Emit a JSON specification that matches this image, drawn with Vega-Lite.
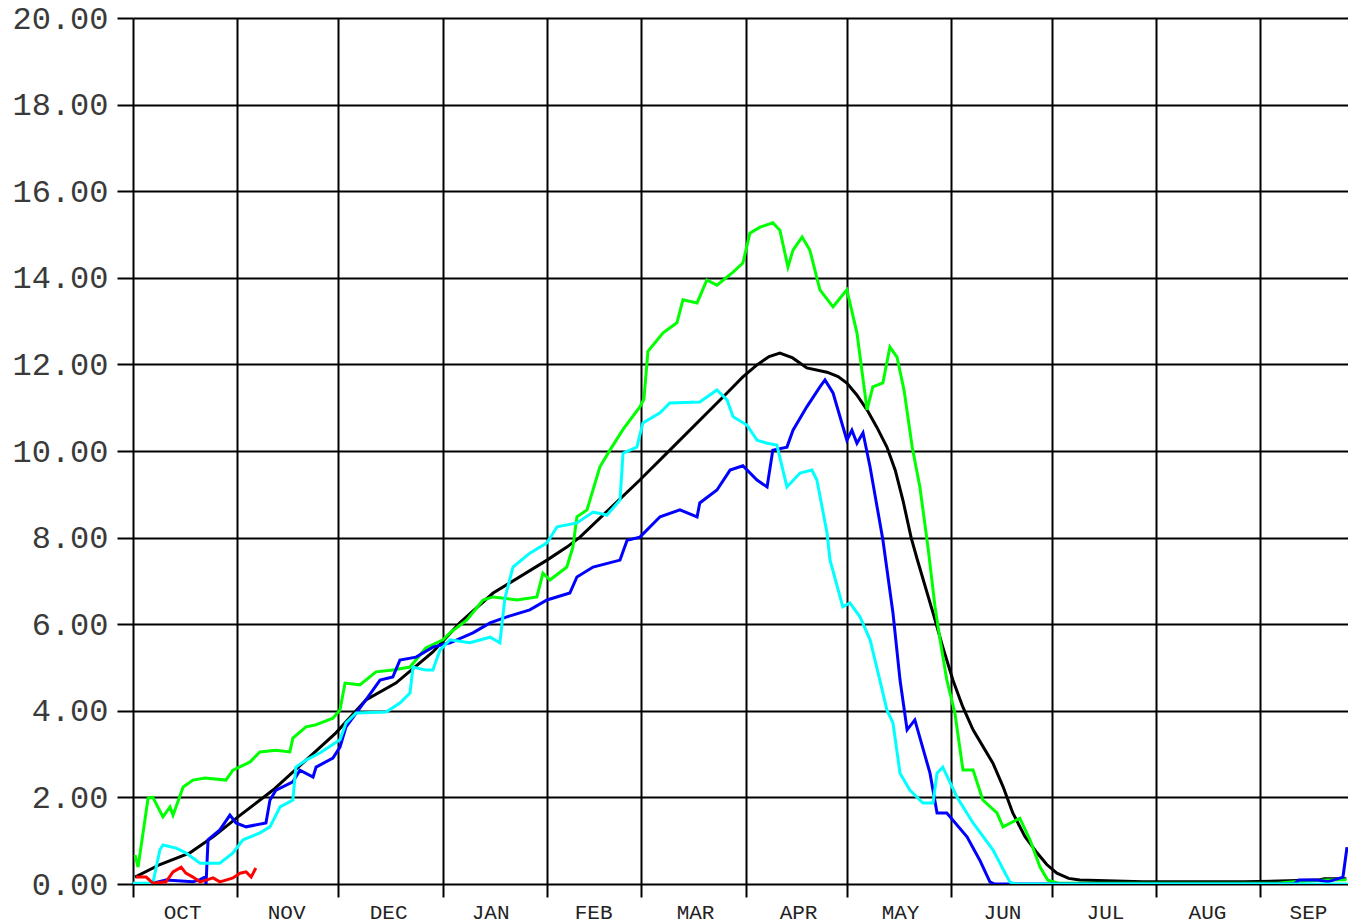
{
  "$schema": "https://vega.github.io/schema/vega-lite/v6.json",
  "width": 1215,
  "height": 866,
  "autosize": {"type": "none"},
  "padding": {"left": 133, "top": 18, "right": 0, "bottom": 40},
  "background": "white",
  "config": {"view": {"stroke": null}},
  "data": {"values": [
    {"s":"black","d":0.6,"v":0.16},{"s":"black","d":8.0,"v":0.45},{"s":"black","d":16.9,"v":0.72},{"s":"black","d":24.0,"v":1.1},{"s":"black","d":31.2,"v":1.55},{"s":"black","d":41.6,"v":2.17},{"s":"black","d":51.4,"v":2.86},{"s":"black","d":60.3,"v":3.49},{"s":"black","d":69.2,"v":4.25},{"s":"black","d":78.1,"v":4.64},{"s":"black","d":89.1,"v":5.36},{"s":"black","d":97.1,"v":6.03},{"s":"black","d":107.0,"v":6.72},{"s":"black","d":123.0,"v":7.48},{"s":"black","d":128.9,"v":7.78},{"s":"black","d":132.8,"v":8.01},{"s":"black","d":150.6,"v":9.33},{"s":"black","d":160.4,"v":10.09},{"s":"black","d":176.5,"v":11.34},{"s":"black","d":181.2,"v":11.71},{"s":"black","d":185.4,"v":11.99},{"s":"black","d":189.0,"v":12.18},{"s":"black","d":192.2,"v":12.26},{"s":"black","d":196.0,"v":12.15},{"s":"black","d":200.2,"v":11.92},{"s":"black","d":206.2,"v":11.82},{"s":"black","d":209.5,"v":11.72},{"s":"black","d":212.1,"v":11.57},{"s":"black","d":215.0,"v":11.3},{"s":"black","d":218.1,"v":10.95},{"s":"black","d":221.0,"v":10.55},{"s":"black","d":224.0,"v":10.09},{"s":"black","d":226.5,"v":9.55},{"s":"black","d":228.8,"v":8.85},{"s":"black","d":231.2,"v":8.0},{"s":"black","d":233.0,"v":7.5},{"s":"black","d":237.7,"v":6.26},{"s":"black","d":240.5,"v":5.5},{"s":"black","d":243.6,"v":4.71},{"s":"black","d":246.5,"v":4.1},{"s":"black","d":249.6,"v":3.56},{"s":"black","d":255.5,"v":2.79},{"s":"black","d":258.5,"v":2.25},{"s":"black","d":261.4,"v":1.64},{"s":"black","d":265.0,"v":1.1},{"s":"black","d":268.6,"v":0.72},{"s":"black","d":271.5,"v":0.45},{"s":"black","d":274.5,"v":0.25},{"s":"black","d":278.0,"v":0.13},{"s":"black","d":281.3,"v":0.09},{"s":"black","d":300,"v":0.05},{"s":"black","d":330,"v":0.05},{"s":"black","d":346,"v":0.08},{"s":"black","d":352,"v":0.09},{"s":"black","d":354,"v":0.12},{"s":"black","d":360.5,"v":0.12},
    {"s":"green","d":0.6,"v":0.67},{"s":"green","d":1.5,"v":0.39},{"s":"green","d":4.5,"v":1.99},{"s":"green","d":5.9,"v":2.0},{"s":"green","d":8.9,"v":1.55},{"s":"green","d":11.0,"v":1.78},{"s":"green","d":11.9,"v":1.59},{"s":"green","d":14.9,"v":2.24},{"s":"green","d":17.8,"v":2.4},{"s":"green","d":21.4,"v":2.45},{"s":"green","d":27.6,"v":2.4},{"s":"green","d":29.7,"v":2.63},{"s":"green","d":34.8,"v":2.82},{"s":"green","d":37.7,"v":3.05},{"s":"green","d":42.5,"v":3.09},{"s":"green","d":46.6,"v":3.05},{"s":"green","d":47.5,"v":3.37},{"s":"green","d":51.4,"v":3.63},{"s":"green","d":54.1,"v":3.67},{"s":"green","d":59.4,"v":3.83},{"s":"green","d":61.5,"v":4.02},{"s":"green","d":63.0,"v":4.64},{"s":"green","d":67.4,"v":4.6},{"s":"green","d":72.2,"v":4.9},{"s":"green","d":77.2,"v":4.94},{"s":"green","d":82.3,"v":5.01},{"s":"green","d":87.0,"v":5.45},{"s":"green","d":92.1,"v":5.64},{"s":"green","d":94.2,"v":5.8},{"s":"green","d":99.2,"v":6.1},{"s":"green","d":104.0,"v":6.56},{"s":"green","d":107.0,"v":6.63},{"s":"green","d":114.1,"v":6.56},{"s":"green","d":120.0,"v":6.63},{"s":"green","d":121.8,"v":7.18},{"s":"green","d":123.9,"v":7.02},{"s":"green","d":128.9,"v":7.32},{"s":"green","d":130.7,"v":7.78},{"s":"green","d":131.9,"v":8.48},{"s":"green","d":134.9,"v":8.64},{"s":"green","d":138.7,"v":9.63},{"s":"green","d":141.7,"v":10.02},{"s":"green","d":145.6,"v":10.5},{"s":"green","d":150.6,"v":11.02},{"s":"green","d":151.8,"v":11.2},{"s":"green","d":153.0,"v":12.3},{"s":"green","d":157.5,"v":12.73},{"s":"green","d":161.6,"v":12.96},{"s":"green","d":163.4,"v":13.49},{"s":"green","d":167.6,"v":13.42},{"s":"green","d":170.5,"v":13.95},{"s":"green","d":173.5,"v":13.83},{"s":"green","d":178.3,"v":14.13},{"s":"green","d":181.2,"v":14.34},{"s":"green","d":183.3,"v":15.03},{"s":"green","d":186.3,"v":15.17},{"s":"green","d":190.1,"v":15.27},{"s":"green","d":192.2,"v":15.1},{"s":"green","d":194.6,"v":14.25},{"s":"green","d":196.1,"v":14.64},{"s":"green","d":198.8,"v":14.94},{"s":"green","d":201.1,"v":14.64},{"s":"green","d":204.1,"v":13.72},{"s":"green","d":208.0,"v":13.33},{"s":"green","d":212.1,"v":13.72},{"s":"green","d":215.1,"v":12.73},{"s":"green","d":218.1,"v":10.95},{"s":"green","d":219.8,"v":11.48},{"s":"green","d":222.8,"v":11.57},{"s":"green","d":224.9,"v":12.4},{"s":"green","d":227.0,"v":12.17},{"s":"green","d":229.1,"v":11.4},{"s":"green","d":231.5,"v":10.1},{"s":"green","d":233.8,"v":9.17},{"s":"green","d":236.2,"v":7.78},{"s":"green","d":238.3,"v":6.4},{"s":"green","d":239.8,"v":5.64},{"s":"green","d":241.8,"v":4.71},{"s":"green","d":244.2,"v":3.95},{"s":"green","d":246.6,"v":2.63},{"s":"green","d":249.6,"v":2.63},{"s":"green","d":252.5,"v":1.94},{"s":"green","d":256.7,"v":1.64},{"s":"green","d":258.5,"v":1.32},{"s":"green","d":263.5,"v":1.52},{"s":"green","d":266.5,"v":1.02},{"s":"green","d":269.5,"v":0.39},{"s":"green","d":271.8,"v":0.09},{"s":"green","d":275,"v":0.02},{"s":"green","d":340,"v":0.02},{"s":"green","d":345,"v":0.05},{"s":"green","d":354.7,"v":0.09},{"s":"green","d":360.5,"v":0.1},
    {"s":"blue","d":5.9,"v":0.02},{"s":"blue","d":9.8,"v":0.09},{"s":"blue","d":17.8,"v":0.05},{"s":"blue","d":19.9,"v":0.1},{"s":"blue","d":21.4,"v":0.16},{"s":"blue","d":21.7,"v":0.0},{"s":"blue","d":22.3,"v":1.02},{"s":"blue","d":25.8,"v":1.25},{"s":"blue","d":28.8,"v":1.59},{"s":"blue","d":30.6,"v":1.41},{"s":"blue","d":33.6,"v":1.32},{"s":"blue","d":39.5,"v":1.41},{"s":"blue","d":40.7,"v":1.94},{"s":"blue","d":42.5,"v":2.17},{"s":"blue","d":47.5,"v":2.36},{"s":"blue","d":49.6,"v":2.63},{"s":"blue","d":53.5,"v":2.47},{"s":"blue","d":54.4,"v":2.7},{"s":"blue","d":59.4,"v":2.91},{"s":"blue","d":61.5,"v":3.16},{"s":"blue","d":63.3,"v":3.63},{"s":"blue","d":69.2,"v":4.25},{"s":"blue","d":73.4,"v":4.71},{"s":"blue","d":77.2,"v":4.78},{"s":"blue","d":79.3,"v":5.17},{"s":"blue","d":84.1,"v":5.24},{"s":"blue","d":89.1,"v":5.47},{"s":"blue","d":94.2,"v":5.57},{"s":"blue","d":101.0,"v":5.8},{"s":"blue","d":106.1,"v":6.03},{"s":"blue","d":111.1,"v":6.17},{"s":"blue","d":117.9,"v":6.33},{"s":"blue","d":123.0,"v":6.56},{"s":"blue","d":129.8,"v":6.72},{"s":"blue","d":131.9,"v":7.09},{"s":"blue","d":136.7,"v":7.32},{"s":"blue","d":144.7,"v":7.48},{"s":"blue","d":146.8,"v":7.94},{"s":"blue","d":150.6,"v":8.01},{"s":"blue","d":156.6,"v":8.48},{"s":"blue","d":162.5,"v":8.64},{"s":"blue","d":167.6,"v":8.48},{"s":"blue","d":168.4,"v":8.8},{"s":"blue","d":173.5,"v":9.1},{"s":"blue","d":177.4,"v":9.56},{"s":"blue","d":181.2,"v":9.66},{"s":"blue","d":185.4,"v":9.33},{"s":"blue","d":188.4,"v":9.17},{"s":"blue","d":190.1,"v":10.02},{"s":"blue","d":194.3,"v":10.09},{"s":"blue","d":196.1,"v":10.48},{"s":"blue","d":200.2,"v":11.02},{"s":"blue","d":204.1,"v":11.48},{"s":"blue","d":205.6,"v":11.64},{"s":"blue","d":208.0,"v":11.34},{"s":"blue","d":212.1,"v":10.25},{"s":"blue","d":213.6,"v":10.48},{"s":"blue","d":215.1,"v":10.18},{"s":"blue","d":216.9,"v":10.42},{"s":"blue","d":219.0,"v":9.63},{"s":"blue","d":222.8,"v":7.95},{"s":"blue","d":225.8,"v":6.26},{"s":"blue","d":227.9,"v":4.71},{"s":"blue","d":230.0,"v":3.56},{"s":"blue","d":232.3,"v":3.79},{"s":"blue","d":236.8,"v":2.56},{"s":"blue","d":238.9,"v":1.64},{"s":"blue","d":241.8,"v":1.64},{"s":"blue","d":247.8,"v":1.09},{"s":"blue","d":251.6,"v":0.55},{"s":"blue","d":254.6,"v":0.05},{"s":"blue","d":256,"v":0.0},{"s":"blue","d":345,"v":0.0},{"s":"blue","d":346.4,"v":0.09},{"s":"blue","d":352,"v":0.09},{"s":"blue","d":355,"v":0.05},{"s":"blue","d":359.5,"v":0.16},{"s":"blue","d":360.7,"v":0.85},
    {"s":"cyan","d":0.0,"v":0.02},{"s":"cyan","d":5.9,"v":0.02},{"s":"cyan","d":8.0,"v":0.79},{"s":"cyan","d":8.9,"v":0.9},{"s":"cyan","d":12.8,"v":0.83},{"s":"cyan","d":15.7,"v":0.72},{"s":"cyan","d":19.9,"v":0.48},{"s":"cyan","d":25.8,"v":0.48},{"s":"cyan","d":29.7,"v":0.72},{"s":"cyan","d":32.7,"v":1.02},{"s":"cyan","d":37.7,"v":1.18},{"s":"cyan","d":40.7,"v":1.32},{"s":"cyan","d":43.7,"v":1.78},{"s":"cyan","d":47.5,"v":1.94},{"s":"cyan","d":48.4,"v":2.7},{"s":"cyan","d":51.4,"v":2.86},{"s":"cyan","d":55.6,"v":3.03},{"s":"cyan","d":61.5,"v":3.33},{"s":"cyan","d":63.3,"v":3.72},{"s":"cyan","d":66.3,"v":3.95},{"s":"cyan","d":75.2,"v":3.97},{"s":"cyan","d":79.3,"v":4.18},{"s":"cyan","d":82.3,"v":4.41},{"s":"cyan","d":83.2,"v":5.01},{"s":"cyan","d":87.0,"v":4.94},{"s":"cyan","d":89.1,"v":4.94},{"s":"cyan","d":91.2,"v":5.4},{"s":"cyan","d":94.2,"v":5.64},{"s":"cyan","d":100.1,"v":5.57},{"s":"cyan","d":106.1,"v":5.7},{"s":"cyan","d":109.0,"v":5.57},{"s":"cyan","d":110.5,"v":6.6},{"s":"cyan","d":112.9,"v":7.32},{"s":"cyan","d":117.9,"v":7.64},{"s":"cyan","d":123.0,"v":7.88},{"s":"cyan","d":126.0,"v":8.25},{"s":"cyan","d":131.9,"v":8.34},{"s":"cyan","d":136.7,"v":8.59},{"s":"cyan","d":140.8,"v":8.52},{"s":"cyan","d":144.7,"v":8.87},{"s":"cyan","d":145.6,"v":9.95},{"s":"cyan","d":149.7,"v":10.09},{"s":"cyan","d":151.5,"v":10.65},{"s":"cyan","d":156.6,"v":10.88},{"s":"cyan","d":159.5,"v":11.11},{"s":"cyan","d":168.4,"v":11.13},{"s":"cyan","d":173.5,"v":11.41},{"s":"cyan","d":176.5,"v":11.18},{"s":"cyan","d":178.3,"v":10.79},{"s":"cyan","d":182.4,"v":10.6},{"s":"cyan","d":185.4,"v":10.25},{"s":"cyan","d":188.4,"v":10.18},{"s":"cyan","d":191.3,"v":10.14},{"s":"cyan","d":194.3,"v":9.17},{"s":"cyan","d":198.2,"v":9.49},{"s":"cyan","d":201.7,"v":9.56},{"s":"cyan","d":203.2,"v":9.33},{"s":"cyan","d":206.2,"v":8.11},{"s":"cyan","d":207.1,"v":7.48},{"s":"cyan","d":210.9,"v":6.4},{"s":"cyan","d":213.0,"v":6.49},{"s":"cyan","d":216.0,"v":6.17},{"s":"cyan","d":219.0,"v":5.64},{"s":"cyan","d":221.9,"v":4.71},{"s":"cyan","d":224.0,"v":4.02},{"s":"cyan","d":225.8,"v":3.72},{"s":"cyan","d":227.9,"v":2.56},{"s":"cyan","d":230.8,"v":2.17},{"s":"cyan","d":234.7,"v":1.87},{"s":"cyan","d":237.7,"v":1.87},{"s":"cyan","d":238.9,"v":2.56},{"s":"cyan","d":240.6,"v":2.7},{"s":"cyan","d":244.8,"v":2.01},{"s":"cyan","d":249.6,"v":1.41},{"s":"cyan","d":255.5,"v":0.79},{"s":"cyan","d":260.5,"v":0.05},{"s":"cyan","d":262,"v":0.0},{"s":"cyan","d":361,"v":0.0},
    {"s":"red","d":0.9,"v":0.16},{"s":"red","d":3.9,"v":0.16},{"s":"red","d":5.9,"v":0.02},{"s":"red","d":9.8,"v":0.05},{"s":"red","d":11.9,"v":0.28},{"s":"red","d":14.3,"v":0.39},{"s":"red","d":15.7,"v":0.25},{"s":"red","d":17.8,"v":0.16},{"s":"red","d":19.9,"v":0.05},{"s":"red","d":21.7,"v":0.09},{"s":"red","d":23.8,"v":0.14},{"s":"red","d":25.8,"v":0.05},{"s":"red","d":27.6,"v":0.09},{"s":"red","d":29.7,"v":0.14},{"s":"red","d":31.8,"v":0.25},{"s":"red","d":33.6,"v":0.28},{"s":"red","d":35.1,"v":0.16},{"s":"red","d":36.5,"v":0.37}
  ]},
  "mark": {"type": "line", "strokeWidth": 3, "clip": true},
  "encoding": {
    "x": {
      "field": "d", "type": "quantitative",
      "scale": {"domain": [0, 361], "nice": false, "zero": false},
      "axis": {
        "title": null,
        "values": [0,14.6,31,45.5,61,75.8,92,106.1,123,136.7,151,167,182,197.6,212,227.9,243,258.2,273,288.8,304,319.1,335,349.1],
        "labelExpr": "indexof([14.6,45.5,75.8,106.1,136.7,167,197.6,227.9,258.2,288.8,319.1,349.1], datum.value) >= 0 ? ['OCT','NOV','DEC','JAN','FEB','MAR','APR','MAY','JUN','JUL','AUG','SEP'][indexof([14.6,45.5,75.8,106.1,136.7,167,197.6,227.9,258.2,288.8,319.1,349.1], datum.value)] : ''",
        "grid": true, "gridColor": "#000000", "gridWidth": 2,
        "gridOpacity": {"condition": {"test": "indexof([0,31,61,92,123,151,182,212,243,273,304,335], datum.value) >= 0", "value": 1}, "value": 0},
        "ticks": true, "tickColor": "#000000", "tickWidth": 2, "tickSize": 13,
        "tickOpacity": {"condition": {"test": "indexof([0,31,61,92,123,151,182,212,243,273,304,335], datum.value) >= 0", "value": 1}, "value": 0},
        "domain": false,
        "labelFont": "Liberation Mono", "labelFontSize": 21, "labelColor": "#222222",
        "labelPadding": 4, "labelFlush": false, "labelOverlap": false, "labelAngle": 0
      }
    },
    "y": {
      "field": "v", "type": "quantitative",
      "scale": {"domain": [0, 20], "nice": false},
      "axis": {
        "title": null,
        "values": [0,2,4,6,8,10,12,14,16,18,20],
        "format": ".2f",
        "grid": true, "gridColor": "#000000", "gridWidth": 2, "gridOpacity": 1,
        "ticks": true, "tickColor": "#000000", "tickWidth": 2, "tickSize": 16,
        "domain": false,
        "labelFont": "Liberation Mono", "labelFontSize": 32, "labelColor": "#3a3a3a",
        "labelPadding": 9, "labelFlush": false, "labelOverlap": false
      }
    },
    "color": {
      "field": "s", "type": "nominal",
      "scale": {"domain": ["black","green","blue","cyan","red"], "range": ["#000000","#00ff00","#0000ff","#00ffff","#ff0000"]},
      "legend": null
    }
  }
}
